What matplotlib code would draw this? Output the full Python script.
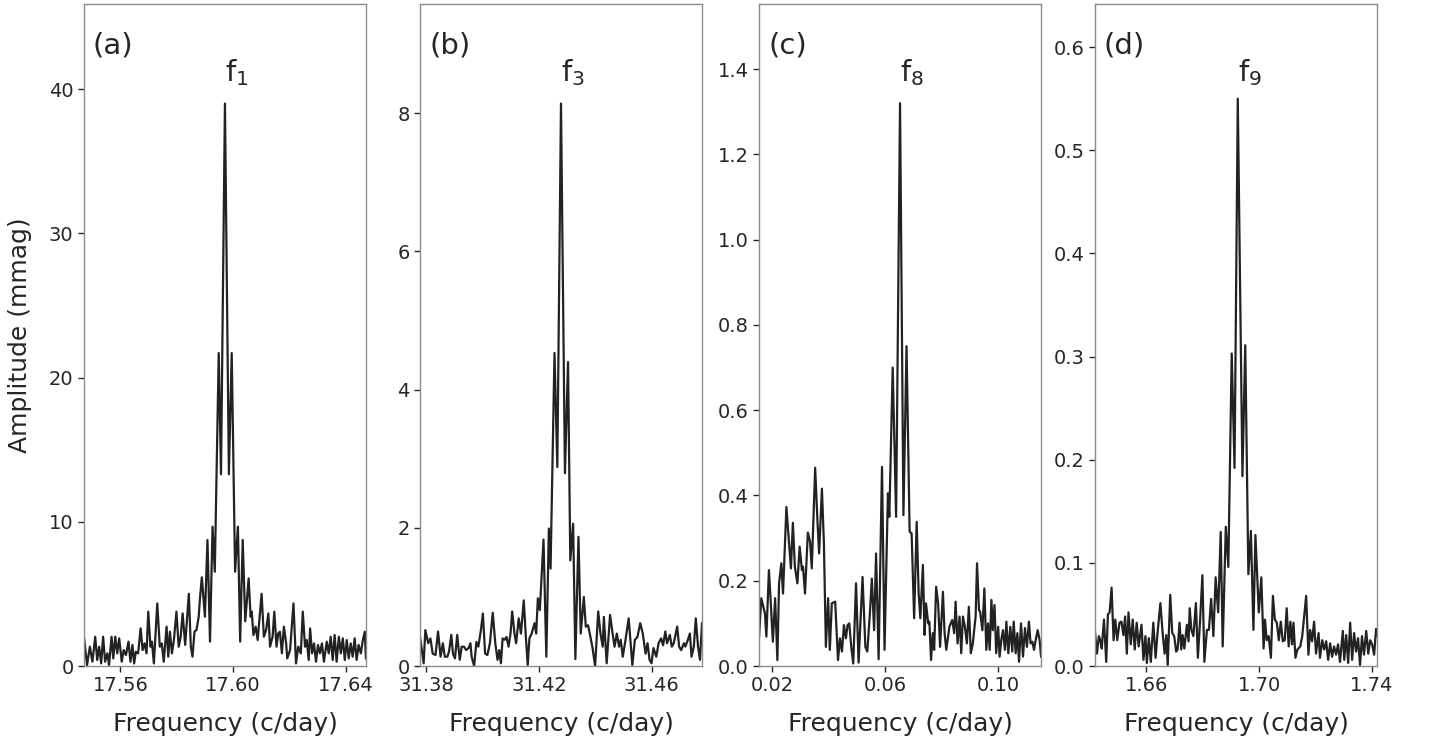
import numpy as np
import matplotlib
matplotlib.use("Agg")
import matplotlib.pyplot as plt

# amplitude spectra around four frequencies
# offsets in units of 0.001 c/day from the panel centre, amplitudes in mmag

# (a) f1
centre_a = 17.5971
off_a = [-50.0, -48.9, -47.9, -47.0, -46.0, -45.3, -44.6, -43.9, -43.2, -42.5,
         -41.7, -41.1, -40.2, -39.6, -38.9, -38.2, -37.5, -36.6, -35.9, -35.1,
         -34.2, -33.5, -32.8, -32.2, -31.6, -30.8, -29.9, -29.2, -28.5, -27.8,
         -27.2, -26.4, -25.9, -25.2, -24.0, -23.1, -22.4, -21.7, -20.7, -20.1,
         -19.5, -18.8, -18.1, -17.2, -16.4, -15.7, -15.0, -14.1, -13.4, -12.8,
         -12.1, -11.5, -10.8, -10.1, -9.3, -8.9, -8.2, -7.1, -6.2, -5.3,
         -4.4, -3.6, -2.2, -1.4, 0.0, 1.4, 2.4, 3.6, 4.6, 5.4,
         6.3, 7.2, 8.4, 9.1, 9.5, 10.1, 10.9, 11.6, 13.0, 13.8,
         14.6, 15.4, 16.0, 16.9, 17.5, 18.3, 18.9, 19.5, 20.2, 20.9,
         21.7, 22.1, 23.1, 24.3, 25.2, 26.0, 26.9, 27.6, 28.4, 29.0,
         29.7, 30.2, 30.9, 31.6, 32.3, 33.0, 33.7, 34.4, 35.1, 36.1,
         36.8, 37.5, 38.2, 38.9, 39.6, 40.4, 41.1, 41.8, 42.5, 43.2,
         43.9, 44.6, 45.3, 46.0, 46.7, 47.4, 48.2, 48.9, 49.6, 50.0]
amp_a = [2.03, 0.07, 1.34, 0.30, 2.03, 0.42, 1.34, 0.18, 2.03, 0.30,
         0.88, 0.07, 2.03, 0.53, 2.03, 0.88, 1.92, 0.30, 1.11, 0.76,
         1.69, 0.30, 1.46, 0.18, 0.99, 0.88, 2.61, 1.11, 1.57, 0.88,
         3.77, 1.34, 1.69, 0.18, 4.34, 1.34, 1.57, 0.30, 2.73, 0.65,
         2.38, 0.88, 1.80, 3.77, 1.34, 2.03, 3.65, 1.46, 3.42, 5.01,
         1.34, 0.65, 2.38, 2.50, 3.42, 4.58, 6.15, 3.42, 8.74, 1.69,
         9.66, 6.54, 21.7, 13.3, 39.0, 13.3, 21.7, 6.54, 9.66, 1.69,
         8.74, 3.10, 6.08, 3.42, 3.77, 2.15, 2.73, 1.80, 5.01, 2.03,
         2.50, 3.65, 1.34, 2.03, 3.77, 1.34, 2.26, 2.38, 0.88, 2.73,
         1.57, 0.53, 1.11, 4.34, 0.18, 1.34, 0.88, 3.77, 1.34, 1.80,
         0.42, 2.61, 0.88, 1.57, 0.30, 1.46, 0.88, 1.57, 0.30, 1.69,
         0.88, 2.03, 0.42, 2.15, 0.30, 2.03, 0.88, 1.92, 0.42, 1.80,
         0.53, 1.57, 0.65, 1.92, 0.42, 1.46, 0.88, 1.80, 2.38, 0.53]

# (b) f3
centre_b = 31.4278
off_b = [-50.0, -49.5, -48.7, -48.1, -47.1, -46.3, -45.5, -44.5, -43.6, -42.7,
         -41.9, -41.2, -40.3, -39.7, -38.9, -38.3, -37.6, -36.8, -35.9, -35.2,
         -34.4, -33.6, -32.8, -32.1, -31.7, -30.8, -30.0, -29.3, -28.4, -27.7,
         -26.9, -26.1, -25.2, -24.2, -23.3, -22.5, -21.9, -21.3, -20.7, -20.0,
         -19.3, -18.6, -17.9, -17.3, -16.5, -15.9, -15.0, -14.2, -13.2, -12.4,
         -11.8, -11.2, -10.4, -9.4, -8.8, -8.2, -7.5, -6.2, -5.2, -4.3,
         -3.7, -2.3, -1.3, 0.0, 1.4, 2.5, 3.3, 4.3, 5.1, 6.2,
         7.0, 8.1, 8.8, 9.6, 10.2, 11.2, 12.1, 13.2, 14.0, 14.8,
         15.2, 16.2, 17.4, 18.3, 19.0, 19.8, 20.6, 21.2, 21.9, 22.7,
         24.0, 24.8, 25.3, 26.2, 27.1, 28.1, 29.0, 30.0, 30.7, 31.4,
         32.1, 32.8, 33.8, 34.6, 35.5, 36.2, 37.0, 37.6, 38.6, 39.3,
         40.0, 41.2, 41.9, 42.6, 43.6, 44.1, 45.0, 45.7, 46.3, 47.1,
         47.8, 48.6, 49.3, 50.0]
amp_b = [0.42, 0.28, 0.04, 0.52, 0.33, 0.40, 0.18, 0.16, 0.50, 0.135,
         0.33, 0.135, 0.135, 0.21, 0.45, 0.18, 0.11, 0.45, 0.09, 0.28,
         0.28, 0.23, 0.26, 0.33, 0.135, 0.0, 0.35, 0.28, 0.52, 0.76,
         0.18, 0.16, 0.33, 0.77, 0.33, 0.09, 0.23, 0.04, 0.40, 0.38,
         0.42, 0.28, 0.47, 0.79, 0.47, 0.33, 0.69, 0.47, 0.95, 0.38,
         0.015, 0.40, 0.47, 0.62, 0.47, 0.98, 0.81, 1.83, 0.135, 1.99,
         1.41, 4.53, 2.88, 8.14, 2.79, 4.40, 1.53, 2.06, 0.10, 1.87,
         0.47, 1.00, 0.57, 0.59, 0.47, 0.26, 0.0, 0.79, 0.47, 0.28,
         0.71, 0.04, 0.74, 0.47, 0.28, 0.47, 0.28, 0.38, 0.135, 0.33,
         0.69, 0.28, 0.015, 0.38, 0.42, 0.62, 0.47, 0.18, 0.33, 0.09,
         0.04, 0.26, 0.135, 0.33, 0.40, 0.30, 0.50, 0.33, 0.45, 0.28,
         0.33, 0.57, 0.28, 0.23, 0.33, 0.28, 0.38, 0.47, 0.135, 0.28,
         0.69, 0.28, 0.09, 0.62]

# (c) f8
centre_c = 0.0653
off_c = [-50.0, -49.2, -47.9, -47.4, -46.5, -45.9, -45.1, -44.3, -43.5, -42.9,
         -42.1, -41.5, -40.3, -39.6, -38.7, -38.0, -37.3, -36.4, -35.6, -34.8,
         -34.4, -33.7, -32.7, -31.9, -31.3, -30.1, -29.3, -28.7, -27.7, -27.0,
         -26.3, -25.5, -24.9, -24.2, -23.0, -22.0, -21.3, -20.6, -19.9, -19.2,
         -18.6, -18.0, -17.3, -16.6, -15.6, -14.7, -13.3, -12.3, -11.6, -10.7,
         -10.0, -9.2, -8.5, -7.6, -6.4, -5.5, -4.3, -3.8, -2.6, -1.4,
         0.0, 1.2, 2.3, 3.4, 4.1, 5.0, 5.9, 6.6, 7.2, 8.1,
         8.7, 9.2, 10.0, 10.4, 11.0, 11.6, 12.1, 12.8, 13.5, 14.2,
         15.2, 15.8, 16.4, 17.5, 18.5, 19.2, 19.7, 20.4, 21.1, 21.7,
         22.3, 23.0, 23.7, 24.4, 25.1, 25.8, 26.8, 27.3, 28.0, 28.4,
         29.2, 29.9, 30.6, 31.2, 31.8, 32.4, 32.9, 33.5, 34.1, 34.8,
         35.3, 35.9, 36.5, 37.2, 37.7, 38.4, 39.1, 39.8, 40.3, 41.0,
         41.6, 42.2, 42.9, 43.6, 44.3, 45.0, 45.7, 46.3, 46.9, 47.5,
         48.1, 48.8, 49.5, 50.0]
amp_c = [0.069, 0.159, 0.123, 0.069, 0.225, 0.155, 0.057, 0.159, 0.014, 0.194,
         0.241, 0.170, 0.373, 0.311, 0.229, 0.336, 0.233, 0.194, 0.280, 0.225,
         0.233, 0.170, 0.313, 0.291, 0.229, 0.465, 0.342, 0.264, 0.416, 0.288,
         0.045, 0.159, 0.038, 0.147, 0.151, 0.014, 0.065, 0.034, 0.096, 0.065,
         0.096, 0.100, 0.045, 0.006, 0.194, 0.008, 0.209, 0.045, 0.034, 0.123,
         0.205, 0.084, 0.264, 0.016, 0.467, 0.038, 0.405, 0.350, 0.700, 0.350,
         1.320, 0.354, 0.750, 0.315, 0.311, 0.112, 0.338, 0.170, 0.112, 0.237,
         0.073, 0.147, 0.100, 0.104, 0.014, 0.077, 0.038, 0.186, 0.147, 0.045,
         0.174, 0.077, 0.038, 0.092, 0.108, 0.077, 0.151, 0.053, 0.116, 0.030,
         0.116, 0.092, 0.053, 0.139, 0.030, 0.053, 0.116, 0.241, 0.131, 0.127,
         0.084, 0.182, 0.038, 0.100, 0.038, 0.155, 0.084, 0.143, 0.030, 0.092,
         0.022, 0.061, 0.084, 0.038, 0.104, 0.030, 0.092, 0.034, 0.104, 0.030,
         0.077, 0.010, 0.100, 0.022, 0.089, 0.045, 0.104, 0.053, 0.057, 0.038,
         0.061, 0.084, 0.061, 0.022]

# (d) f9
centre_d = 1.6918
off_d = [-50.0, -49.3, -48.6, -48.1, -47.6, -46.8, -46.0, -45.4, -44.8, -44.1,
         -43.4, -42.8, -42.1, -41.3, -40.6, -39.9, -39.3, -38.7, -38.1, -37.3,
         -36.6, -35.9, -35.2, -34.5, -33.5, -32.8, -32.1, -31.6, -30.9, -30.2,
         -29.3, -28.5, -27.8, -26.8, -26.0, -25.3, -24.7, -24.2, -23.3, -22.6,
         -21.9, -21.2, -20.7, -20.0, -19.4, -18.9, -18.3, -17.4, -16.8, -16.4,
         -15.8, -15.1, -14.2, -13.5, -12.7, -11.9, -11.2, -10.3, -9.6, -8.8,
         -8.0, -7.2, -6.3, -5.4, -4.7, -3.6, -2.7, -1.5, -0.5, 0.65,
         2.3, 3.3, 4.4, 5.3, 6.2, 6.9, 8.1, 9.0, 9.8, 10.3,
         10.9, 11.6, 12.4, 13.1, 13.8, 14.5, 15.2, 15.9, 16.6, 17.3,
         18.0, 18.7, 19.3, 19.9, 20.4, 21.1, 21.8, 22.8, 23.5, 24.2,
         24.9, 25.7, 26.3, 27.0, 27.7, 28.4, 29.3, 29.8, 30.6, 31.3,
         32.0, 32.7, 33.4, 34.1, 34.8, 35.5, 36.2, 36.9, 37.9, 38.4,
         39.1, 39.8, 40.5, 41.2, 41.9, 42.6, 43.3, 44.0, 44.7, 45.4,
         46.2, 46.9, 47.6, 48.3, 49.0, 49.7, 50.0]
amp_d = [0.034, 0.012, 0.029, 0.025, 0.017, 0.045, 0.004, 0.050, 0.052, 0.076,
         0.025, 0.045, 0.025, 0.042, 0.043, 0.030, 0.048, 0.012, 0.052, 0.021,
         0.045, 0.016, 0.042, 0.019, 0.040, 0.006, 0.029, 0.003, 0.027, 0.004,
         0.042, 0.008, 0.032, 0.061, 0.032, 0.012, 0.030, 0.001, 0.069, 0.032,
         0.029, 0.014, 0.016, 0.042, 0.016, 0.030, 0.017, 0.040, 0.024, 0.056,
         0.035, 0.029, 0.061, 0.008, 0.045, 0.088, 0.004, 0.035, 0.035, 0.065,
         0.029, 0.086, 0.052, 0.130, 0.019, 0.135, 0.096, 0.303, 0.192, 0.550,
         0.184, 0.311, 0.089, 0.131, 0.035, 0.127, 0.052, 0.086, 0.017, 0.045,
         0.025, 0.029, 0.008, 0.068, 0.045, 0.042, 0.025, 0.043, 0.024, 0.025,
         0.056, 0.019, 0.043, 0.021, 0.042, 0.008, 0.016, 0.019, 0.029, 0.048,
         0.068, 0.011, 0.035, 0.024, 0.043, 0.012, 0.032, 0.008, 0.025, 0.016,
         0.024, 0.006, 0.022, 0.009, 0.019, 0.011, 0.021, 0.004, 0.034, 0.006,
         0.030, 0.003, 0.042, 0.006, 0.032, 0.014, 0.027, 0.001, 0.029, 0.011,
         0.034, 0.012, 0.025, 0.021, 0.011, 0.036, 0.030]

panels = [
    ("(a)", "f$_1$", centre_a, off_a, amp_a, 45.9,
     [17.56, 17.60, 17.64], [0, 10, 20, 30, 40], "%d"),
    ("(b)", "f$_3$", centre_b, off_b, amp_b, 9.58,
     [31.38, 31.42, 31.46], [0, 2, 4, 6, 8], "%d"),
    ("(c)", "f$_8$", centre_c, off_c, amp_c, 1.5525,
     [0.02, 0.06, 0.10], [0.0, 0.2, 0.4, 0.6, 0.8, 1.0, 1.2, 1.4], "%.1f"),
    ("(d)", "f$_9$", centre_d, off_d, amp_d, 0.6417,
     [1.66, 1.70, 1.74], [0.0, 0.1, 0.2, 0.3, 0.4, 0.5, 0.6], "%.1f"),
]

plt.rcParams['font.family'] = ['DejaVu Sans']
plt.rcParams['mathtext.default'] = 'regular'
txt = '#262626'
edge = '#8c8c8c'

fig = plt.figure(figsize=(14.3, 7.45), dpi=100)
lefts = [0.0587, 0.2937, 0.5308, 0.7657]

for i, (tag, name, fc, off, amp, ytop, xt, yt, yfmt) in enumerate(panels):
    ax = fig.add_axes([lefts[i], 0.106, 0.1972, 0.8886])
    freq = fc + np.array(off) / 1000.0
    amp = np.array(amp)
    ax.plot(freq, amp, color='#222222', lw=1.6)
    ax.set_xlim(fc - 0.05, fc + 0.05)
    ax.set_ylim(0, ytop)
    ax.set_xticks(xt)
    ax.set_xticklabels(["%.2f" % v for v in xt])
    ax.set_yticks(yt)
    ax.set_yticklabels([yfmt % v for v in yt])
    ax.tick_params(labelsize=14, colors=txt, length=4, width=1, direction='out')
    for s in ax.spines.values():
        s.set_color(edge)
        s.set_linewidth(1.0)
    ax.set_xlabel("Frequency (c/day)", fontsize=18, color=txt, labelpad=12)
    if i == 0:
        ax.set_ylabel("Amplitude (mmag)", fontsize=18, color=txt, labelpad=12)

    ax.text(0.032, 0.958, tag, transform=ax.transAxes, fontsize=21,
            color=txt, ha='left', va='top')
    peak = freq[np.argmax(amp)]
    ax.text(peak, 0.873, name, transform=ax.get_xaxis_transform(),
            fontsize=21, color=txt, ha='left', va='bottom')

fig.savefig("out.png", dpi=100)
